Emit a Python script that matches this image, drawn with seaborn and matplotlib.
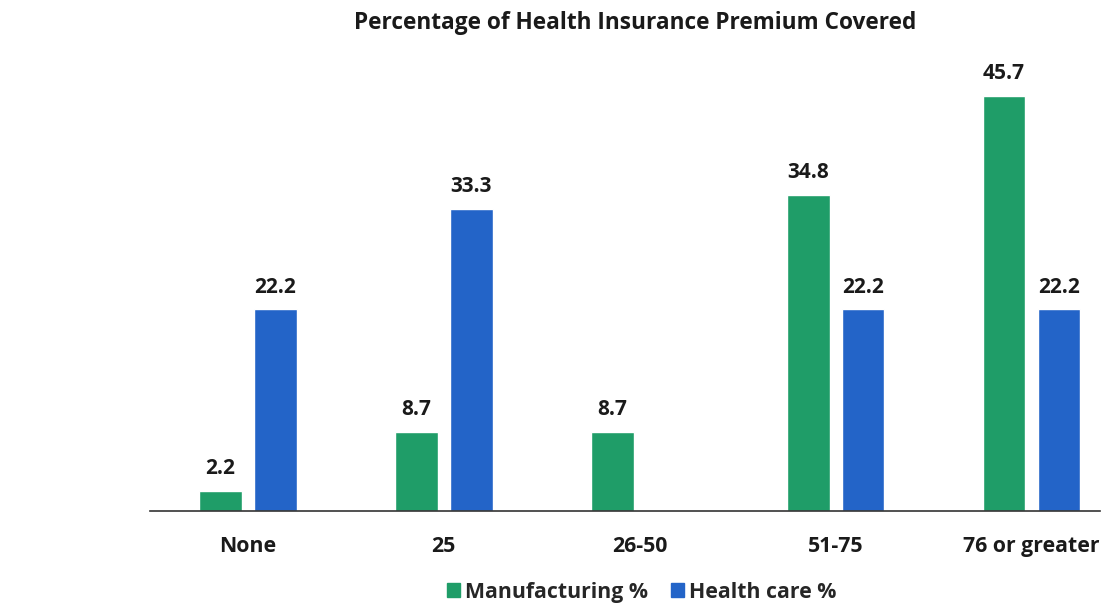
import matplotlib
matplotlib.use("Agg")
import matplotlib.pyplot as plt
import seaborn as sns
import pandas as pd
import numpy as np

categories = ["None", "25", "26-50", "51-75", "76 or greater"]
manufacturing = [2.2, 8.7, 8.7, 34.8, 45.7]
health_care = [22.2, 33.3, np.nan, 22.2, 22.2]
series_names = ["Manufacturing %", "Health care %"]
colors = ["#1f9d68", "#2364c8"]

df = pd.DataFrame({
    "category": categories * 2,
    "value": manufacturing + health_care,
    "series": [series_names[0]] * len(categories) + [series_names[1]] * len(categories),
})

sns.set_theme(style="white")
plt.rcParams["font.family"] = ["Open Sans", "DejaVu Sans"]

fig = plt.figure(figsize=(11.18, 6.08), dpi=100)
ax = fig.add_axes([0.134, 0.1595, 0.850, 0.7467])

sns.barplot(data=df, x="category", y="value", hue="series", order=categories,
            hue_order=series_names, palette=colors, width=0.56, gap=0.22,
            saturation=1, ax=ax, legend=False)

for cont in ax.containers:
    labels = ["" if np.isnan(v) else f"{v:.1f}" for v in cont.datavalues]
    ax.bar_label(cont, labels=labels, padding=8.5, fontsize=15, fontweight="bold",
                 color="#1a1a1a")

ax.set_xlim(-0.5, 4.35)
ax.set_ylim(0, 50)
ax.set_xlabel("")
ax.set_ylabel("")
ax.set_yticks([])
for side in ["left", "right", "top"]:
    ax.spines[side].set_visible(False)
ax.spines["bottom"].set_color("#333333")
ax.spines["bottom"].set_linewidth(1.2)
ax.tick_params(axis="x", length=0, pad=18)
for lbl in ax.get_xticklabels():
    lbl.set_fontsize(15.3)
    lbl.set_fontweight("bold")
    lbl.set_color("#1a1a1a")

fig.suptitle("Percentage of Health Insurance Premium Covered", x=0.568, y=0.962,
             va="center", fontsize=16.3, fontweight="bold", color="#1a1a1a")

handles = [plt.Rectangle((0, 0), 1, 1, color=c) for c in colors]
fig.legend(handles, series_names, loc="center", bbox_to_anchor=(0.574, 0.026),
           ncol=2, frameon=False, handlelength=0.6, handleheight=0.6,
           handletextpad=0.25, columnspacing=1.1,
           prop={"weight": "bold", "size": 15.3})

fig.savefig("out.png", dpi=100, facecolor="white")
